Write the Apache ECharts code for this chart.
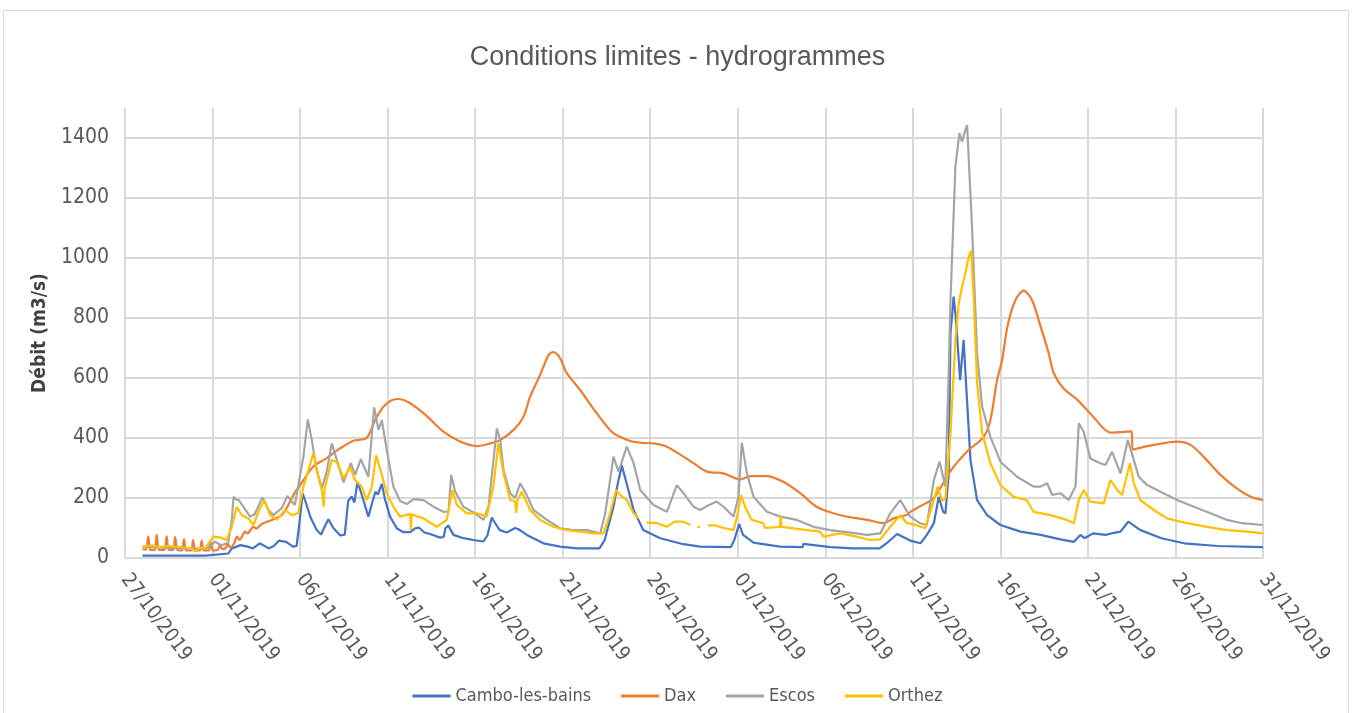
<!DOCTYPE html>
<html>
<head>
<meta charset="utf-8">
<script src="https://cdn.jsdelivr.net/npm/echarts@6/dist/echarts.min.js"></script>
<style>
  html, body { margin: 0; padding: 0; background: #ffffff; }
  #frame { position: absolute; left: 3px; top: 10px; width: 1346px; height: 710px; border: 1px solid #d9d9d9; box-sizing: border-box; }
  #chart { position: absolute; left: 0; top: 0; width: 1355px; height: 713px; }
</style>
</head>
<body>
<div id="frame"></div>
<div id="chart"></div>
<script>
// x = days since 27/10/2019
const tickLabels = ['27/10/2019','01/11/2019','06/11/2019','11/11/2019','16/11/2019','21/11/2019','26/11/2019','01/12/2019','06/12/2019','11/12/2019','16/12/2019','21/12/2019','26/12/2019','31/12/2019'];
const seriesNames = ['Cambo-les-bains', 'Dax', 'Escos', 'Orthez'];

const cambo = [[1,8],[4.6,8],[4.7,13],[5.9,15],[6.1,32],[6.6,43],[7.0,38],[7.3,32],[7.7,49],[8.2,32],[8.5,40],[8.8,58],[9.2,54],[9.6,38],[9.8,40],[9.95,110],[10.15,215],[10.3,190],[10.6,135],[10.95,93],[11.2,78],[11.45,110],[11.62,129],[11.9,100],[12.3,75],[12.55,78],[12.75,190],[12.95,205],[13.1,185],[13.28,254],[13.5,215],[13.9,138],[14.1,180],[14.3,221],[14.45,212],[14.67,247],[14.86,193],[15.14,138],[15.52,99],[15.9,86],[16.29,86],[16.57,99],[16.8,101],[17.1,85],[17.43,80],[18.0,68],[18.2,70],[18.3,99],[18.47,108],[18.76,77],[19.33,66],[19.9,60],[20.47,55],[20.7,75],[20.95,135],[21.1,120],[21.4,93],[21.81,85],[22.28,100],[22.5,95],[22.95,77],[23.9,49],[24.85,38],[25.8,32],[27.1,32],[27.4,60],[27.9,171],[28.15,249],[28.38,308],[28.6,260],[29.05,160],[29.6,93],[30.57,66],[31.9,46],[32.85,38],[34.6,36],[34.8,60],[35.08,113],[35.3,77],[35.9,51],[37.4,38],[38.7,36],[38.75,47],[40.3,36],[41.6,32],[43.1,32],[43.6,54],[44.1,80],[44.85,58],[45.43,49],[45.8,77],[46.2,116],[46.48,204],[46.73,154],[46.86,149],[47.05,282],[47.15,749],[47.33,871],[47.45,804],[47.7,593],[47.9,727],[48.05,571],[48.29,327],[48.67,193],[49.24,143],[50.0,110],[51.15,88],[52.3,77],[53.43,62],[54.2,54],[54.57,77],[54.8,66],[55.3,82],[56.0,77],[56.5,84],[56.86,88],[57.3,121],[58.0,93],[59.2,66],[60.5,49],[62.4,40],[65,36]];

const dax = [[1,30],[1.2,28],[1.33,71],[1.45,27],[1.7,27],[1.81,77],[1.95,27],[2.25,27],[2.38,72],[2.5,27],[2.75,27],[2.86,70],[3.0,27],[3.25,25],[3.37,62],[3.5,25],[3.78,25],[3.89,60],[4.02,25],[4.27,25],[4.38,58],[4.5,25],[4.78,25],[4.9,52],[5.02,25],[5.3,27],[5.43,45],[5.55,30],[5.75,33],[5.87,47],[6.0,35],[6.2,45],[6.4,71],[6.55,60],[6.86,88],[7.0,82],[7.33,104],[7.5,98],[7.8,113],[8.38,127],[8.95,143],[9.33,177],[9.7,218],[10.2,260],[10.76,305],[11.5,332],[12.3,366],[13.05,391],[13.8,400],[14.29,460],[14.76,504],[15.2,525],[15.6,530],[16.29,516],[17.24,473],[18.19,421],[19.14,388],[20.1,373],[20.86,382],[21.43,393],[22.19,427],[22.76,471],[23.14,538],[23.71,610],[24.2,677],[24.47,686],[24.85,666],[25.23,616],[26.0,560],[26.95,482],[27.9,416],[28.86,390],[29.5,384],[30.2,382],[30.95,371],[31.9,338],[32.47,316],[33.23,288],[34.19,282],[35.14,262],[35.71,273],[36.66,273],[37.6,254],[38.57,216],[39.5,171],[40.47,149],[41.4,136],[42.4,127],[43.33,116],[43.9,132],[44.66,143],[44.86,154],[45.43,173],[46.2,200],[47.15,290],[48.1,355],[49.05,404],[49.43,460],[49.81,593],[50.1,660],[50.4,771],[50.86,860],[51.33,891],[51.8,860],[52.3,771],[52.76,682],[53.05,616],[53.6,566],[54.4,527],[55.3,471],[56.29,418],[57.5,422],[57.55,362],[58.76,377],[60.1,388],[60.86,377],[61.6,338],[62.57,277],[63.5,232],[64.3,204],[65,193]];

const escos = [[1,38],[2,35],[3,33],[4,32],[4.6,30],[5.14,54],[5.5,42],[5.9,52],[6.1,127],[6.2,204],[6.35,195],[6.5,193],[6.76,171],[7.14,138],[7.4,145],[7.85,202],[8.19,160],[8.48,143],[8.95,166],[9.28,207],[9.52,188],[9.7,177],[9.9,243],[10.19,338],[10.44,462],[10.67,393],[10.95,293],[11.24,232],[11.52,288],[11.81,382],[12.1,327],[12.48,252],[12.9,316],[13.14,277],[13.47,329],[13.9,271],[14.23,502],[14.48,427],[14.67,460],[14.95,360],[15.33,238],[15.71,190],[16.1,180],[16.48,196],[17.05,193],[17.62,171],[18.19,154],[18.48,155],[18.63,277],[18.86,222],[19.33,171],[19.9,152],[20.48,127],[20.76,171],[21.05,327],[21.24,432],[21.43,393],[21.62,293],[22.0,216],[22.29,200],[22.57,249],[22.9,216],[23.33,160],[24.1,127],[24.85,99],[25.6,93],[26.38,93],[27.14,82],[27.43,149],[27.9,338],[28.19,288],[28.66,371],[29.05,316],[29.43,227],[30.19,177],[30.95,154],[31.52,243],[31.9,216],[32.47,171],[32.85,160],[33.3,175],[33.8,188],[34.2,170],[34.76,138],[35.04,204],[35.23,384],[35.52,282],[35.9,204],[36.66,154],[37.43,138],[38.38,127],[39.33,104],[40.28,93],[41.23,86],[42.38,77],[43.14,82],[43.71,149],[44.28,193],[44.85,138],[45.4,116],[45.8,110],[46.2,260],[46.53,321],[46.85,238],[47.04,600],[47.15,860],[47.43,1304],[47.66,1416],[47.81,1388],[47.97,1421],[48.1,1443],[48.38,1104],[48.67,682],[48.96,504],[49.43,404],[50.0,321],[50.95,271],[51.9,238],[52.3,238],[52.67,249],[52.96,210],[53.43,216],[53.9,193],[54.29,238],[54.48,449],[54.76,421],[55.14,332],[55.7,316],[56.0,310],[56.38,354],[56.86,282],[57.28,393],[57.62,327],[57.9,271],[58.38,243],[59.14,221],[60.1,193],[61.05,171],[62.0,149],[62.95,127],[63.8,116],[65,110]];

const orthez = [[1,38],[1.5,42],[2,36],[2.5,40],[3,37],[3.5,35],[3.8,32],[4.0,21],[4.3,35],[4.57,32],[5.05,71],[5.43,69],[5.8,60],[6.1,104],[6.38,171],[6.67,143],[7.05,132],[7.33,110],[7.71,166],[7.96,193],[8.29,143],[8.67,127],[9.14,160],[9.52,143],[9.9,149],[10.19,238],[10.48,293],[10.76,349],[11.05,271],[11.24,227],[11.35,171],[11.4,230],[11.81,327],[12.1,320],[12.48,266],[12.86,302],[13.14,260],[13.52,238],[13.81,193],[14.1,238],[14.34,343],[14.67,277],[14.95,216],[15.33,171],[15.71,138],[16.29,147],[16.33,93],[16.37,145],[17.05,132],[17.8,104],[18.38,127],[18.7,227],[18.95,177],[19.52,149],[20.1,149],[20.66,138],[21.04,238],[21.33,382],[21.62,282],[22.0,193],[22.28,190],[22.35,150],[22.4,190],[22.66,221],[23.14,160],[23.71,127],[24.47,104],[25.23,93],[26.0,88],[26.76,82],[27.33,82],[27.71,149],[28.05,227],[28.28,210],[28.66,193],[29.05,149],[29.35,132],[29.5,null],[29.8,118],[30.4,116],[30.95,104],[31.4,121],[31.9,121],[32.3,110],[32.5,null],[32.7,104],[32.85,104],[33.1,null],[33.3,108],[33.61,110],[34.2,100],[34.76,93],[35.0,149],[35.18,210],[35.42,171],[35.8,127],[36.47,116],[36.55,100],[37.4,104],[37.45,143],[37.5,104],[38.19,99],[38.95,93],[39.7,88],[39.9,71],[40.85,82],[41.8,71],[42.57,60],[43.14,62],[43.71,104],[44.28,143],[44.66,116],[45.05,112],[45.7,99],[46.2,193],[46.42,238],[46.67,190],[46.86,199],[47.15,416],[47.43,727],[47.62,849],[47.81,904],[48.0,949],[48.19,1004],[48.33,1025],[48.48,860],[48.67,582],[48.96,416],[49.43,316],[50.0,243],[50.76,204],[51.5,193],[51.9,154],[52.86,143],[53.8,127],[54.2,116],[54.48,193],[54.76,227],[55.14,188],[55.9,182],[56.29,260],[56.67,227],[56.95,210],[57.4,316],[57.62,249],[58.0,193],[58.76,160],[59.52,132],[60.67,116],[61.8,104],[62.95,93],[64.1,88],[65,82]];

const colors = ['#4472C4', '#ED7D31', '#A5A5A5', '#FFC000'];
const smoothing = [0, 0.3, 0, 0];
const narrow = "'Liberation Sans Narrow', 'DejaVu Sans Condensed', 'Liberation Sans', sans-serif";

const chart = echarts.init(document.getElementById('chart'), null, { renderer: 'canvas' });
const allData = [cambo, dax, escos, orthez];
// y split lines: hide the one at the axis max (1500)
const ySplitColors = ['#d9d9d9','#d9d9d9','#d9d9d9','#d9d9d9','#d9d9d9','#d9d9d9','#d9d9d9','#d9d9d9','rgba(0,0,0,0)'];

chart.setOption({
  backgroundColor: 'transparent',
  animation: false,
  color: colors,
  title: {
    text: 'Conditions limites - hydrogrammes',
    left: 'center',
    top: 39,
    textStyle: { fontFamily: "'Liberation Sans', sans-serif", fontSize: 27, fontWeight: 'normal', color: '#595959' }
  },
  legend: {
    bottom: 3,
    left: 'center',
    icon: 'rect',
    itemWidth: 38,
    itemHeight: 3,
    itemGap: 30,
    textStyle: { fontFamily: narrow, fontSize: 18, color: '#595959' },
    data: seriesNames
  },
  grid: { left: 125, right: 92, top: 108, height: 450, containLabel: false },
  xAxis: {
    type: 'value',
    min: 0,
    max: 65,
    interval: 5,
    axisLine: { show: true, lineStyle: { color: '#d9d9d9', width: 2 } },
    axisTick: { show: false },
    splitLine: { show: true, lineStyle: { color: '#d9d9d9', width: 2 } },
    axisLabel: {
      rotate: -53,
      margin: 18,
      fontFamily: narrow,
      fontSize: 20,
      color: '#595959',
      showMinLabel: true,
      showMaxLabel: true,
      formatter: function (v) { return tickLabels[Math.round(v / 5)] || ''; }
    }
  },
  yAxis: {
    type: 'value',
    min: 0,
    max: 1500,
    interval: 200,
    name: 'Débit (m3/s)',
    nameLocation: 'middle',
    nameRotate: 90,
    nameGap: 49,
    nameTextStyle: { fontFamily: narrow, fontSize: 19, fontWeight: 'bold', color: '#404040' },
    axisLine: { show: false },
    axisTick: { show: false },
    splitLine: { show: true, lineStyle: { color: ySplitColors, width: 2 } },
    axisLabel: { fontFamily: narrow, fontSize: 21, color: '#595959', margin: 16, showMaxLabel: false, formatter: function (v) { return String(v); } }
  },
  series: allData.map(function (d, i) {
    return {
      name: seriesNames[i],
      type: 'line',
      data: d,
      showSymbol: false,
      symbol: 'none',
      smooth: smoothing[i],
      connectNulls: false,
      lineStyle: { width: 2.2, color: colors[i] },
      itemStyle: { color: colors[i] },
      z: 2 + i
    };
  })
});
</script>
</body>
</html>
